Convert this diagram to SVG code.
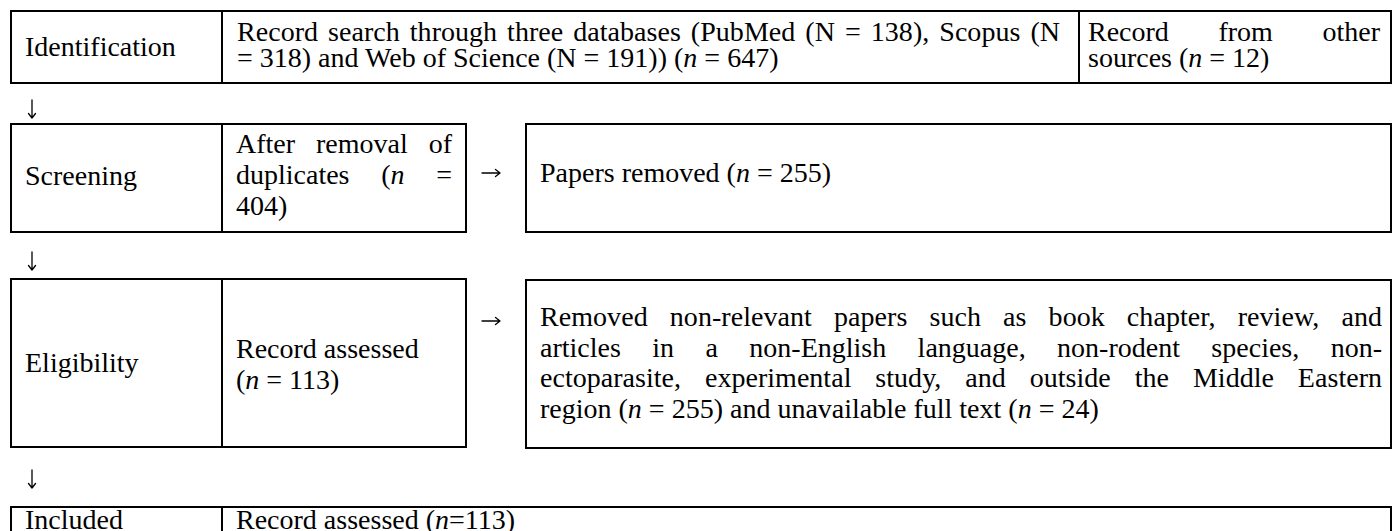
<svg xmlns="http://www.w3.org/2000/svg" width="1397" height="531" viewBox="0 0 1397 531">
<style>
.t{font-family:"Liberation Serif","Times New Roman",serif;font-size:28px;fill:#000}
.b{fill:#fff;stroke:#000;stroke-width:2}
.d{stroke:#000;stroke-width:2}
.a{fill:none;stroke:#000;stroke-width:1.3;stroke-linecap:round;stroke-linejoin:round}
.i{font-style:italic}
</style>
<rect width="1397" height="531" fill="#fff"/>
<g id="row-identification">
  <rect class="b" x="11" y="11" width="1380" height="72"/>
  <line class="d" x1="222" y1="11" x2="222" y2="83"/>
  <line class="d" x1="1079" y1="11" x2="1079" y2="83"/>
</g>
<g id="node-identification">
  <text class="t" x="25" y="56">Identification</text>
</g>
<g id="node-record-search">
  <text class="t" x="237" y="41" textLength="823" style="word-spacing:3px">Record search through three databases (PubMed (N = 138), Scopus (N</text>
  <text class="t" x="237" y="67">= 318) and Web of Science (N = 191)) (<tspan class="i">n</tspan> = 647)</text>
</g>
<g id="node-other-sources">
  <text class="t" x="1088" y="41" textLength="292" style="word-spacing:42.6px">Record from other</text>
  <text class="t" x="1088" y="67">sources (<tspan class="i">n</tspan> = 12)</text>
</g>
<g id="row-screening">
  <rect class="b" x="11" y="124" width="455" height="108"/>
  <line class="d" x1="222" y1="124" x2="222" y2="232"/>
</g>
<g id="node-screening">
  <text class="t" x="25" y="185">Screening</text>
</g>
<g id="node-duplicates">
  <text class="t" x="236" y="153" textLength="216" style="word-spacing:13.9px">After removal of</text>
  <text class="t" x="236" y="184" textLength="216" style="word-spacing:24.7px">duplicates (<tspan class="i">n</tspan> =</text>
  <text class="t" x="236" y="215">404)</text>
</g>
<g id="node-papers-removed">
  <rect class="b" x="526" y="124" width="865" height="108"/>
  <text class="t" x="540" y="182">Papers removed (<tspan class="i">n</tspan> = 255)</text>
</g>
<g id="row-eligibility">
  <rect class="b" x="11" y="279" width="455" height="168"/>
  <line class="d" x1="222" y1="279" x2="222" y2="447"/>
</g>
<g id="node-eligibility">
  <text class="t" x="25" y="372">Eligibility</text>
</g>
<g id="node-record-assessed">
  <text class="t" x="236" y="358">Record assessed</text>
  <text class="t" x="236" y="389">(<tspan class="i">n</tspan> = 113)</text>
</g>
<g id="node-removed-nonrelevant">
  <rect class="b" x="526" y="280" width="865" height="168"/>
  <text class="t" x="540" y="326" textLength="842" style="word-spacing:15px">Removed non-relevant papers such as book chapter, review, and</text>
  <text class="t" x="540" y="357" textLength="842" style="word-spacing:24.4px">articles in a non-English language, non-rodent species, non-</text>
  <text class="t" x="540" y="387" textLength="842" style="word-spacing:16.9px">ectoparasite, experimental study, and outside the Middle Eastern</text>
  <text class="t" x="540" y="418">region (<tspan class="i">n</tspan> = 255) and unavailable full text (<tspan class="i">n</tspan> = 24)</text>
</g>
<g id="row-included">
  <rect class="b" x="11" y="507" width="1380" height="40"/>
  <line class="d" x1="222" y1="507" x2="222" y2="547"/>
</g>
<g id="node-included">
  <text class="t" x="25" y="529">Included</text>
</g>
<g id="node-final">
  <text class="t" x="236" y="529">Record assessed (<tspan class="i">n</tspan>=113)</text>
</g>
<g id="connectors">
  <path class="a" d="M32 100 V118 M28.5 113.5 L32 118 L35.5 113.5"/>
  <path class="a" d="M32 252 V270 M28.5 265.5 L32 270 L35.5 265.5"/>
  <path class="a" d="M32 470 V488 M28.5 483.5 L32 488 L35.5 483.5"/>
  <path class="a" d="M482 173 H500 M495.5 169.5 L500 173 L495.5 176.5"/>
  <path class="a" d="M482 321 H500 M495.5 317.5 L500 321 L495.5 324.5"/>
</g>
</svg>
